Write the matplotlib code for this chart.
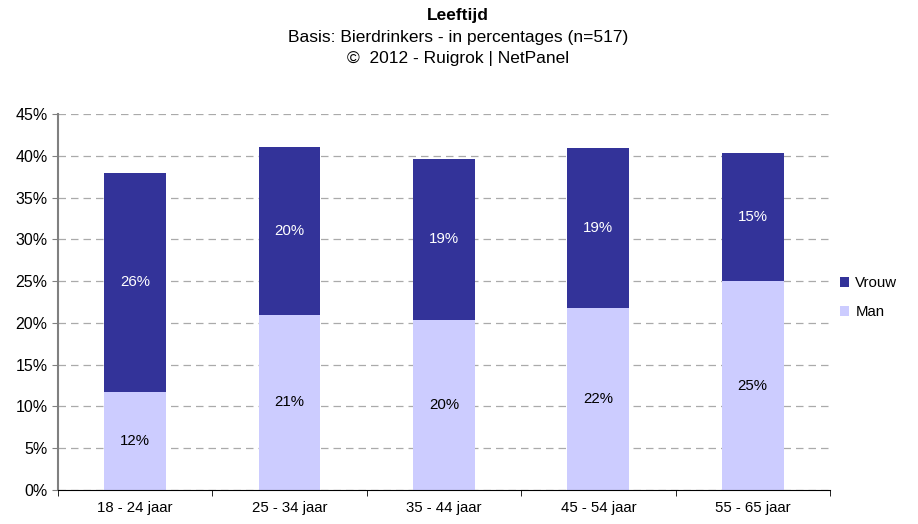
import matplotlib.pyplot as plt
import numpy as np

categories = ['18 - 24 jaar', '25 - 34 jaar', '35 - 44 jaar', '45 - 54 jaar', '55 - 65 jaar']
man = [11.7, 21.0, 20.4, 21.8, 25.0]
vrouw = [26.3, 20.1, 19.2, 19.1, 15.3]
man_labels = ['12%', '21%', '20%', '22%', '25%']
vrouw_labels = ['26%', '20%', '19%', '19%', '15%']

plt.rcParams['font.family'] = ['Liberation Sans', 'DejaVu Sans']
plt.rcParams['font.size'] = 10.8

fig = plt.figure(figsize=(9.18, 5.24), dpi=100)
ax = fig.add_axes([0.0632, 0.0649, 0.8408, 0.7175])

x = np.arange(len(categories))
b1 = ax.bar(x, man, width=0.4, color='#CCCCFF', label='Man', zorder=2)
b2 = ax.bar(x, vrouw, width=0.4, bottom=man, color='#333399', label='Vrouw', zorder=2)

for i in range(len(x)):
    ax.text(x[i], man[i] / 2, man_labels[i], ha='center', va='center', color='black')
    ax.text(x[i], man[i] + vrouw[i] / 2, vrouw_labels[i], ha='center', va='center', color='white')

ax.set_xlim(-0.5, 4.5)
ax.set_ylim(0, 45)
ax.set_yticks(np.arange(0, 46, 5))
ax.set_yticklabels([f'{v}%' for v in range(0, 46, 5)])
ax.tick_params(axis='y', labelsize=11.5)
ax.yaxis.grid(True, linestyle=(0, (6, 4)), color='#aaaaaa', linewidth=0.9, zorder=0)
ax.set_axisbelow(True)

ax.set_xticks(x)
ax.set_xticklabels(categories)
ax.set_xticks(np.arange(-0.5, 5, 1), minor=True)
ax.tick_params(axis='x', which='major', length=0, pad=8)
ax.tick_params(axis='x', which='minor', length=4, direction='out', color='black')
ax.tick_params(axis='y', length=4, direction='out', color='#808080')

for s in ['top', 'right']:
    ax.spines[s].set_visible(False)
ax.spines['left'].set_color('#808080')
ax.spines['left'].set_linewidth(1.5)
ax.spines['bottom'].set_color('black')

ax.legend(handles=[b2, b1], loc='center left', bbox_to_anchor=(0.995, 0.512),
          frameon=False, handlelength=0.65, handleheight=0.65, handletextpad=0.4,
          labelspacing=1.0)

fig.text(0.499, 0.971, 'Leeftijd', ha='center', va='center', fontweight='bold', fontsize=12.5)
fig.text(0.499, 0.928, 'Basis: Bierdrinkers - in percentages (n=517)', ha='center', va='center', fontsize=12.5)
fig.text(0.499, 0.888, '©  2012 - Ruigrok | NetPanel', ha='center', va='center', fontsize=12.5)

fig.savefig('out.png', dpi=100)
